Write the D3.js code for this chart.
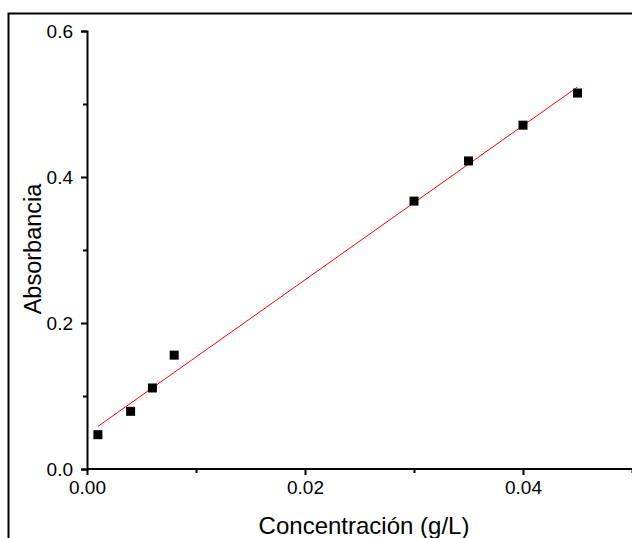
<!DOCTYPE html>
<html>
<head>
<meta charset="utf-8">
<script src="https://cdn.jsdelivr.net/npm/d3@7"></script>
<style>
  body { margin: 0; background: #fff; }
  svg { display: block; font-family: "Liberation Sans", Arial, sans-serif; }
</style>
</head>
<body>
<div class="chart"></div>
<script>
// data
var concentracion = [0.001, 0.004, 0.006, 0.008, 0.030, 0.035, 0.040, 0.045];
var absorbancia = [0.047, 0.079, 0.111, 0.156, 0.367, 0.422, 0.471, 0.515];
var xTicks = [0, 0.02, 0.04];
var xMinor = [0.01, 0.03, 0.05];
var yTicks = [0, 0.2, 0.4, 0.6];
var yMinor = [0.1, 0.3, 0.5];

var width = 632;
var height = 538;
var svg = d3.select('.chart').append('svg').attr('width', width).attr('height', height);

// outer frame (cut by the window on right and bottom)
svg.append('rect')
  .attr('x', 8.5).attr('y', 13.5)
  .attr('width', 700).attr('height', 600)
  .attr('fill', 'none').attr('stroke', '#000').attr('stroke-width', 2);

var x = d3.scaleLinear().domain([0, 0.05]).range([87, 632]);
var y = d3.scaleLinear().domain([0, 0.6]).range([469, 31]);

// linear fit (least squares)
var mx = d3.mean(concentracion), my = d3.mean(absorbancia);
var sxy = d3.sum(concentracion, function(d, i){ return (d - mx) * (absorbancia[i] - my); });
var sxx = d3.sum(concentracion, function(d){ return (d - mx) * (d - mx); });
var slope = sxy / sxx;
var intercept = my - slope * mx;
var x0 = d3.min(concentracion), x1 = d3.max(concentracion);

svg.append('line')
  .attr('x1', x(x0)).attr('y1', y(intercept + slope * x0))
  .attr('x2', x(x1)).attr('y2', y(intercept + slope * x1))
  .attr('stroke', '#ff0000').attr('stroke-width', 1);

// axes
var xAxis = svg.append('g').attr('transform', 'translate(0,469)')
  .call(d3.axisBottom(x).tickValues(xTicks).tickSize(6).tickPadding(6)
    .tickFormat(d3.format('.2f')));
var xAxisMinor = svg.append('g').attr('transform', 'translate(0,469)')
  .call(d3.axisBottom(x).tickValues(xMinor).tickSize(4).tickFormat(''));
var yAxis = svg.append('g').attr('transform', 'translate(87,0)')
  .call(d3.axisLeft(y).tickValues(yTicks).tickSize(6).tickPadding(8)
    .tickFormat(d3.format('.1f')));
var yAxisMinor = svg.append('g').attr('transform', 'translate(87,0)')
  .call(d3.axisLeft(y).tickValues(yMinor).tickSize(4).tickFormat(''));

[xAxis, xAxisMinor, yAxis, yAxisMinor].forEach(function(g){
  g.attr('font-size', 19).attr('font-family', '"Liberation Sans", Arial, sans-serif');
  g.select('.domain').attr('stroke-width', 2).attr('stroke', '#000');
  g.selectAll('.tick line').attr('stroke-width', 2).attr('stroke', '#000');
  g.selectAll('.tick text').attr('fill', '#000');
});
xAxis.select('.domain').attr('d', 'M87,0H640');
xAxisMinor.select('.domain').remove();
yAxisMinor.select('.domain').remove();

// points
svg.selectAll('rect.pt')
  .data(concentracion).enter()
  .append('rect')
  .attr('class', 'pt')
  .attr('x', function(d){ return x(d) - 4.5; })
  .attr('y', function(d, i){ return y(absorbancia[i]) - 4.5; })
  .attr('width', 9).attr('height', 9)
  .attr('fill', '#000');

// titles
svg.append('text')
  .attr('x', 364).attr('y', 534)
  .attr('text-anchor', 'middle')
  .attr('font-size', 24)
  .text('Concentración (g/L)');

svg.append('text')
  .attr('transform', 'translate(41,249) rotate(-90)')
  .attr('text-anchor', 'middle')
  .attr('font-size', 23.5)
  .text('Absorbancia');
</script>
</body>
</html>
